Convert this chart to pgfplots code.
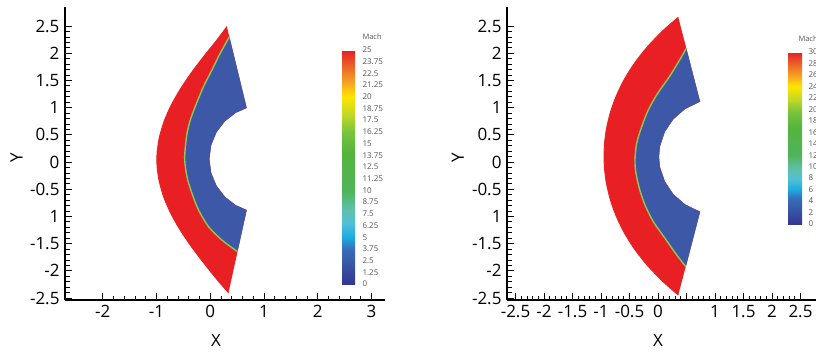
\documentclass[border=0pt]{standalone}
\usepackage{fontspec}
\setmainfont{Open Sans}
\usepackage{pgfplots}
\pgfplotsset{compat=1.18}
\usetikzlibrary{calc}
\definecolor{machred}{RGB}{232,32,36}
\definecolor{machblue}{RGB}{62,88,168}
\definecolor{shockg}{RGB}{140,200,80}
\definecolor{cbtext}{RGB}{85,85,85}
\pgfplotsset{
  colormap={mach}{rgb255(0pt)=(50,55,145) rgb255(8pt)=(55,85,165) rgb255(15pt)=(55,110,185) rgb255(20pt)=(30,170,225) rgb255(26pt)=(80,192,215) rgb255(32pt)=(95,192,170) rgb255(40pt)=(80,180,90) rgb255(56pt)=(85,180,60) rgb255(65pt)=(120,195,60) rgb255(72pt)=(190,215,40) rgb255(80pt)=(255,230,0) rgb255(86pt)=(245,165,35) rgb255(94pt)=(235,90,40) rgb255(100pt)=(230,30,35)},
  myaxis/.style={
    scale only axis, height=293pt,
    axis x line*=bottom, axis y line*=left,
    axis line style={line width=1.1pt, black},
    tick align=inside, major tick length=7pt, minor tick length=4.5pt,
    tick style={black, line width=0.8pt},
    minor tick style={black, line width=0.7pt},
    tick label style={font=\fontsize{17}{19}\selectfont},
    label style={font=\fontsize{17}{19}\selectfont},
    xticklabel style={yshift=-2pt},
    yticklabel style={xshift=-2pt},
    ymin=-2.537, ymax=2.849,
    ytick={-2.5,-2,-1.5,-1,-0.5,0,0.5,1,1.5,2,2.5},
    yticklabels={-2.5,-2,-1.5,1,-0.5,0,0.5,1,1.5,2,2.5},
    minor y tick num=4,
    xlabel={X}, ylabel={Y},
    colormap name=mach, colorbar,
    colorbar shift/.style={},
    point meta min=0,
  },
}
\begin{document}
\begin{tikzpicture}
\path[use as bounding box] (0,0) rectangle (816pt,351pt);
% ---------------- left panel ----------------
\begin{axis}[myaxis,
  at={(65pt,51pt)}, anchor=south west, width=320pt,
  xmin=-2.70, xmax=3.25,
  xtick={-2,-1,0,1,2,3}, xticklabels={-2,-1,0,1,2,3},
  minor x tick num=4,
  xlabel style={at={(axis description cs:0.472,-0.137)}, anchor=center},
  ylabel style={at={(axis description cs:-0.151,0.485)}, anchor=center},
  point meta max=25,
  colorbar style={
    at={($(parent axis.south west)+(277pt,16pt)$)}, anchor=south west,
    scale only axis, width=13pt, height=234pt,
    ytick={0,1.25,2.5,3.75,5,6.25,7.5,8.75,10,11.25,12.5,13.75,15,16.25,17.5,18.75,20,21.25,22.5,23.75,25},
    yticklabels={0,1.25,2.5,3.75,5,6.25,7.5,8.75,10,11.25,12.5,13.75,15,16.25,17.5,18.75,20,21.25,22.5,23.75,25},
    yticklabel style={font=\fontsize{8}{9}\selectfont, text=cbtext, xshift=4pt},
    major tick length=0pt, axis line style={draw=none},
    title={Mach}, title style={font=\fontsize{7.5}{8}\selectfont, text=cbtext, at={(1,1)}, anchor=south west, xshift=4pt, yshift=1pt},
  },
]
\addplot[fill=machred, draw=none] coordinates {
(0.310,2.487) (0.125,2.242) (-0.118,1.942) (-0.348,1.642) (-0.553,1.342) (-0.726,1.042) (-0.859,0.742) (-0.947,0.442) (-0.985,0.192) (-0.991,0.042) (-0.985,-0.108) (-0.947,-0.358) (-0.859,-0.658) (-0.726,-0.958) (-0.553,-1.258) (-0.348,-1.558) (-0.118,-1.858) (0.125,-2.158) (0.340,-2.403)
(0.679,-0.882) (0.475,-0.794) (0.272,-0.638) (0.116,-0.435) (0.018,-0.199) (-0.015,0.055) (0.018,0.309) (0.116,0.545) (0.272,0.748) (0.475,0.904) (0.679,0.992)
};
\addplot[machred, line width=1.0pt, smooth] coordinates {
(0.310,2.487) (0.125,2.242) (-0.118,1.942) (-0.348,1.642) (-0.553,1.342) (-0.726,1.042) (-0.859,0.742) (-0.947,0.442) (-0.985,0.192) (-0.991,0.042) (-0.985,-0.108) (-0.947,-0.358) (-0.859,-0.658) (-0.726,-0.958) (-0.553,-1.258) (-0.348,-1.558) (-0.118,-1.858) (0.125,-2.158) (0.340,-2.403)
};
\addplot[fill=machblue, draw=none] coordinates {
(0.357,2.303) (0.186,1.998) (0.032,1.691) (-0.125,1.384) (-0.279,1.017) (-0.370,0.772) (-0.430,0.533) (-0.462,0.281) (-0.474,0.037) (-0.433,-0.270) (-0.340,-0.575) (-0.217,-0.882) (-0.032,-1.189) (0.217,-1.434) (0.508,-1.649)
(0.679,-0.882) (0.475,-0.794) (0.272,-0.638) (0.116,-0.435) (0.018,-0.199) (-0.015,0.055) (0.018,0.309) (0.116,0.545) (0.272,0.748) (0.475,0.904) (0.679,0.992)
};
\addplot[shockg, line width=1.4pt, smooth] coordinates {
(0.357,2.303) (0.186,1.998) (0.032,1.691) (-0.125,1.384) (-0.279,1.017) (-0.370,0.772) (-0.430,0.533) (-0.462,0.281) (-0.474,0.037) (-0.433,-0.270) (-0.340,-0.575) (-0.217,-0.882) (-0.032,-1.189) (0.217,-1.434) (0.508,-1.649)
};
\end{axis}
% ---------------- right panel ----------------
\begin{axis}[myaxis,
  at={(507pt,51pt)}, anchor=south west, width=309pt,
  xmin=-2.649, xmax=2.772,
  xtick={-2.5,-2,-1.5,-1,-0.5,0,0.5,1,1.5,2,2.5},
  xticklabels={-2.5,-2,-1.5,-1,-0.5,0,,1,1.5,2,2.5},
  minor x tick num=4,
  xlabel style={at={(axis description cs:0.489,-0.137)}, anchor=center},
  ylabel style={at={(axis description cs:-0.159,0.485)}, anchor=center},
  point meta max=30,
  colorbar style={
    at={($(parent axis.south west)+(281pt,76pt)$)}, anchor=south west,
    scale only axis, width=14pt, height=172pt,
    ytick={0,2,4,6,8,10,12,14,16,18,20,22,24,26,28,30},
    yticklabels={0,2,4,6,8,10,12,14,16,18,20,22,24,26,28,30},
    yticklabel style={font=\fontsize{8}{9}\selectfont, text=cbtext, xshift=3pt},
    major tick length=0pt, axis line style={draw=none},
    title={Mach}, title style={font=\fontsize{7.5}{8}\selectfont, text=cbtext, at={(0.5,1)}, anchor=south west, yshift=1pt},
  },
]
\addplot[fill=machred, draw=none] coordinates {
(0.356,2.660) (0.081,2.408) (-0.193,2.108) (-0.417,1.808) (-0.596,1.508) (-0.734,1.208) (-0.836,0.908) (-0.904,0.608) (-0.936,0.358) (-0.947,0.108) (-0.936,-0.142) (-0.904,-0.392) (-0.836,-0.692) (-0.734,-0.992) (-0.596,-1.292) (-0.417,-1.592) (-0.193,-1.892) (0.081,-2.192) (0.356,-2.445)
(0.739,-0.915) (0.474,-0.779) (0.268,-0.591) (0.119,-0.356) (0.034,-0.089) (0.018,0.097) (0.034,0.283) (0.119,0.550) (0.268,0.785) (0.474,0.973) (0.739,1.109)
};
\addplot[machred, line width=1.0pt, smooth] coordinates {
(0.356,2.660) (0.081,2.408) (-0.193,2.108) (-0.417,1.808) (-0.596,1.508) (-0.734,1.208) (-0.836,0.908) (-0.904,0.608) (-0.936,0.358) (-0.947,0.108) (-0.936,-0.142) (-0.904,-0.392) (-0.836,-0.692) (-0.734,-0.992) (-0.596,-1.292) (-0.417,-1.592) (-0.193,-1.892) (0.081,-2.192) (0.356,-2.445)
};
\addplot[fill=machblue, draw=none] coordinates {
(0.497,2.090) (0.380,1.875) (0.200,1.568) (-0.005,1.263) (-0.170,0.956) (-0.286,0.649) (-0.374,0.344) (-0.404,0.037) (-0.391,-0.178) (-0.328,-0.483) (-0.228,-0.790) (-0.082,-1.097) (0.123,-1.403) (0.328,-1.710) (0.490,-1.925)
(0.739,-0.915) (0.474,-0.779) (0.268,-0.591) (0.119,-0.356) (0.034,-0.089) (0.018,0.097) (0.034,0.283) (0.119,0.550) (0.268,0.785) (0.474,0.973) (0.739,1.109)
};
\addplot[shockg, line width=1.4pt, smooth] coordinates {
(0.497,2.090) (0.380,1.875) (0.200,1.568) (-0.005,1.263) (-0.170,0.956) (-0.286,0.649) (-0.374,0.344) (-0.404,0.037) (-0.391,-0.178) (-0.328,-0.483) (-0.228,-0.790) (-0.082,-1.097) (0.123,-1.403) (0.328,-1.710) (0.490,-1.925)
};
\end{axis}
\end{tikzpicture}
\end{document}
